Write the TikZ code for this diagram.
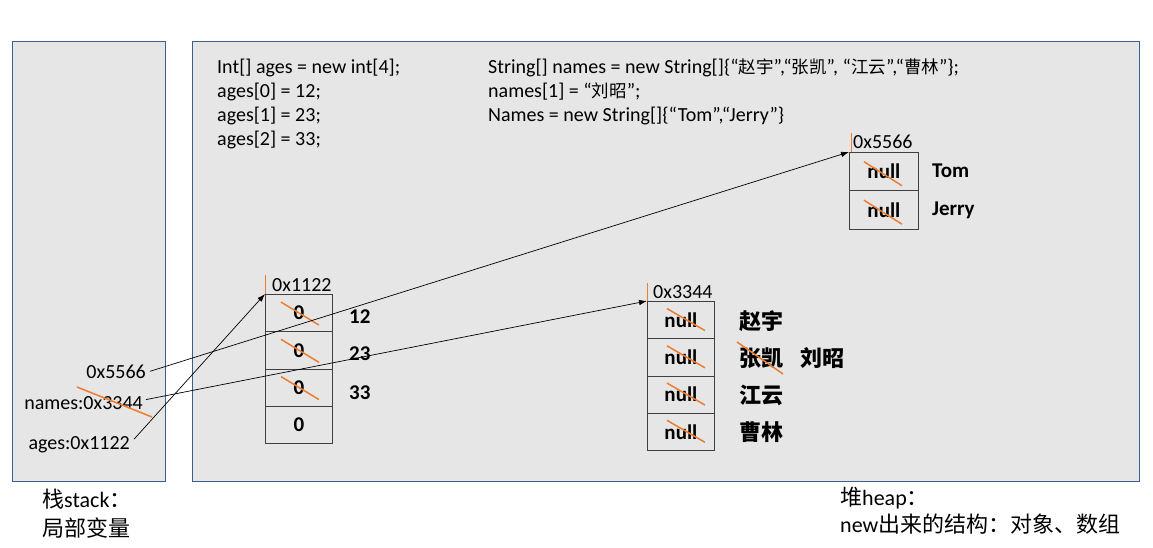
\documentclass[tikz,border=0pt]{standalone}
\usepackage{fontspec}
\setmainfont{Carlito}
\newfontfamily\cjk{Noto Sans CJK SC}
\usetikzlibrary{arrows.meta}
\definecolor{boxfill}{HTML}{E7E6E6}
\definecolor{boxline}{HTML}{3D5F8C}
\definecolor{strikec}{HTML}{ED7D31}
\definecolor{cellline}{HTML}{404040}
\newcommand\zh[1]{{\cjk\fontsize{17.5}{24}\selectfont #1}}
\tikzset{
 region/.style={draw=boxline, fill=boxfill, line width=1pt, anchor=north west, inner sep=0pt},
 code/.style={anchor=base west, inner sep=0pt, font=\fontsize{20}{24}\selectfont},
 cell/.style={draw=cellline, line width=0.8pt, minimum width=67pt, minimum height=37.25pt, inner sep=0pt, font=\bfseries\fontsize{21}{25}\selectfont, anchor=north west},
 addr/.style={anchor=base west, inner sep=0pt, font=\fontsize{20}{24}\selectfont},
 val/.style={anchor=base west, inner sep=0pt, font=\bfseries\fontsize{21}{25}\selectfont},
 cval/.style={anchor=west, inner sep=0pt, font=\cjk\bfseries\fontsize{22}{26}\selectfont},
 note/.style={anchor=base west, inner sep=0pt, font=\fontsize{22}{26}\selectfont},
 xout/.style={draw=strikec, line width=1.5pt},
 mark line/.style={draw=strikec, line width=0.9pt},
 ref/.style={draw=black, line width=0.7pt, -{Latex[length=8pt,width=5.5pt]}},
}
\begin{document}
\begin{tikzpicture}[x=1pt,y=-1pt]
\useasboundingbox (0,0) rectangle (1153,548);
% regions
\node[region, minimum width=153pt, minimum height=440pt] (stack) at (12,41) {};
\node[region, minimum width=947pt, minimum height=440pt] (heap) at (192,41) {};
% code
\node[code] (c1) at (217,73.5) {Int[] ages = new int[4];};
\node[code] (c2) at (217,97.5) {ages[0] = 12;};
\node[code] (c3) at (217,121.5) {ages[1] = 23;};
\node[code] (c4) at (217,145.5) {ages[2] = 33;};
\node[code] (d1) at (488,73.5) {String[] names = new String[]\{“\zh{赵宇}”,“\zh{张凯}”, “\zh{江云}”,“\zh{曹林}”\};};
\node[code] (d2) at (488,97.5) {names[1] = “\zh{刘昭}”;};
\node[code] (d3) at (488,121.5) {Names = new String[]\{“Tom”,“Jerry”\}};
% array 0x1122
\node[cell] (a1) at (265,294) {0};
\node[cell] (a2) at (265,331.25) {0};
\node[cell] (a3) at (265,368.5) {0};
\node[cell] (a4) at (265,405.75) {0};
\node[addr] (la) at (272,291) {0x1122};
\draw[mark line] (a1.north west) -- ++(0,-19);
\foreach \c in {a1,a2,a3}
  \draw[xout] ([shift={(-18,-11)}]\c.center) -- ([shift={(20,12)}]\c.center);
\node[val] (v1) at (349,323) {12};
\node[val] (v2) at (349,360.5) {23};
\node[val] (v3) at (349,399) {33};
% array 0x3344
\node[cell] (b1) at (647,301) {null};
\node[cell] (b2) at (647,338.25) {null};
\node[cell] (b3) at (647,375.5) {null};
\node[cell] (b4) at (647,412.75) {null};
\node[addr] (lb) at (653,298) {0x3344};
\draw[mark line] (b1.north west) -- ++(0,-18);
\foreach \c in {b1,b2,b3,b4}
  \draw[xout] ([shift={(-14,-11.5)}]\c.center) -- ([shift={(24,10.5)}]\c.center);
\node[cval] (n1) at (739,321) {赵宇};
\node[cval] (n2) at (739,358) {张凯};
\node[cval] (n2b) at (800,358) {刘昭};
\node[cval] (n3) at (739,395) {江云};
\node[cval] (n4) at (739,432) {曹林};
\draw[xout] ([shift={(-2,-16)}]n2.west) -- ([shift={(44,16)}]n2.west);
% array 0x5566
\node[cell, minimum width=69pt, minimum height=38.5pt] (t1) at (849,152) {null};
\node[cell, minimum width=69pt, minimum height=38.5pt] (t2) at (849,190.5) {null};
\node[addr] (lt) at (853,149) {0x5566};
\draw[mark line] (851,152) -- ++(0,-19);
\foreach \c in {t1,t2}
  \draw[xout] ([shift={(-20,-10)}]\c.center) -- ([shift={(18,14)}]\c.center);
\node[val] (tom) at (932,178) {Tom};
\node[val] (jerry) at (932,215) {Jerry};
% stack variables
\node[addr, anchor=base east] (s1) at (146,378) {0x5566};
\node[addr, anchor=base east] (s2) at (143,409) {names:0x3344};
\node[addr, anchor=base east] (s3) at (130,449) {ages:0x1122};
\draw[xout] ([shift={(-66,-22)}]s2.base east) -- ([shift={(9,8)}]s2.base east);
% references
\draw[ref] ([shift={(4,0)}]s1.east) -- (t1.north west);
\draw[ref] ([shift={(3,-3)}]s2.east) -- (b1.north west);
\draw[ref] ([shift={(4,-5)}]s3.east) -- (a1.north west);
% captions
\node[note] (cap1) at (42,507) {{\cjk 栈}stack{\cjk ：}};
\node[note] (cap2) at (42,536) {{\cjk 局部变量}};
\node[note] (cap3) at (840,505) {{\cjk 堆}heap{\cjk ：}};
\node[note] (cap4) at (840,532) {new{\cjk 出来的结构：对象、数组}};
\end{tikzpicture}
\end{document}
